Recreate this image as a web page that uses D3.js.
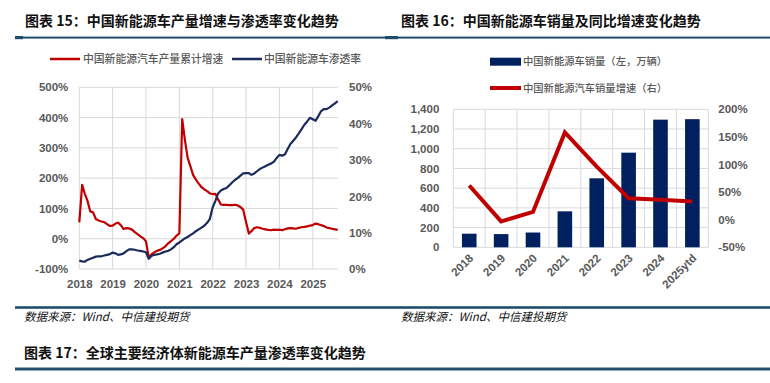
<!DOCTYPE html>
<html><head><meta charset="utf-8">
<script src="https://cdn.jsdelivr.net/npm/d3@7"></script>
<style>
html,body{margin:0;padding:0;background:#fff;}
svg{display:block;}
</style></head>
<body>
<svg id="c" width="770" height="383"></svg>
<script>
// ---------- data: chart 15 (monthly, Jan 2018 – Oct 2025) ----------
const startMonth = "2018-01", endMonth = "2025-10";
const productionGrowth = [
  54,178,150,125,90,87,65,60,57,55,48,42,
  43,50,53,45,32,35,34,30,22,15,8,2,
  -8,-63,-52,-45,-40,-37,-32,-25,-15,-8,0,10,
  18,395,330,268,240,210,195,182,170,163,157,150,
  147,148,130,113,112,112,111,111,112,110,105,96,
  55,17,25,35,38,36,33,31,29,28,30,29,
  30,28,31,34,35,34,33,36,38,39,41,43,
  45,50,48,45,42,37,35,33,31,29
];
const penetration = [
  2.3,2.1,2.0,2.5,2.8,3.1,3.4,3.5,3.5,3.7,3.9,4.1,
  4.5,4.3,3.9,4.0,4.3,4.9,5.4,5.4,5.3,5.1,5.0,4.8,
  4.6,2.8,3.6,3.9,4.0,4.2,4.5,4.8,5.0,5.4,6.0,6.8,
  7.3,7.9,8.4,8.8,9.3,9.8,10.4,10.9,11.4,11.9,12.7,13.8,
  17.0,18.8,20.8,21.6,22.0,22.3,23.0,23.8,24.5,25.0,25.7,26.3,
  26.4,26.4,25.9,26.3,26.9,27.5,27.9,28.3,28.7,29.0,29.5,30.5,
  31.4,31.2,31.5,33.0,34.4,35.3,36.2,37.3,38.5,39.7,40.6,41.6,
  41.2,40.8,42.0,43.4,44.0,44.0,44.4,45.0,45.6,46.2
];
const leftTicks15 = [-100,0,100,200,300,400,500];
const rightTicks15 = [0,10,20,30,40,50];
const yearTicks15 = ["2018","2019","2020","2021","2022","2023","2024","2025"];

// ---------- data: chart 16 ----------
const years16 = ["2018","2019","2020","2021","2022","2023","2024","2025ytd"];
const sales16 = [138,134,150,365,700,960,1295,1300];
const salesGrowth16 = [62,-3,14,158,96,39,36,33];
const leftTicks16 = [0,200,400,600,800,1000,1200,1400];
const rightTicks16 = [-50,0,50,100,150,200];

// ---------- texts ----------
const title15 = "图表 15：中国新能源车产量增速与渗透率变化趋势";
const title16 = "图表 16：中国新能源车销量及同比增速变化趋势";
const title17 = "图表 17：全球主要经济体新能源车产量渗透率变化趋势";
const legend15 = ["中国新能源汽车产量累计增速","中国新能源车渗透率"];
const legend16 = ["中国新能源车销量（左，万辆）","中国新能源汽车销量增速（右）"];
const sourceText = "数据来源：Wind、中信建投期货";

// ---------- styles ----------
const RED = "#c00000", NAVY = "#002060", NAVY_LINE = "#1a2a5c", GRID = "#d9d9d9", TXT = "#595959", BAR_RULE = "#1f4e6e";
const CJK = "'Noto Sans CJK SC','Noto Sans',sans-serif";
const NUM = "'Liberation Sans',Arial,sans-serif";

const svg = d3.select("#c");
svg.append("rect").attr("width",770).attr("height",383).attr("fill","#fff");

// titles & rules
function title(x, y, t){
  svg.append("text").attr("x",x).attr("y",y).text(t)
    .attr("font-family",CJK).attr("font-weight","bold").attr("font-size",14).attr("fill","#111");
}
title(25, 26, title15);
title(401, 26, title16);
title(24, 358, title17);
function rule(x1,x2,y,h){ svg.append("rect").attr("x",x1).attr("y",y-h/2).attr("width",x2-x1).attr("height",h).attr("fill",BAR_RULE); }
rule(15,385,37.6,2);
rule(15,23,37.6,3.2);
rule(385,770,37.6,2);
rule(385,398,37.6,3.2);
rule(15,770,307.5,2.6);
rule(15,770,369,3);
[24,401].forEach(x=>{
  svg.append("text").attr("x",x).attr("y",321).text(sourceText)
    .attr("font-family",CJK).attr("font-style","italic").attr("font-size",11.5).attr("fill","#111")
    .attr("transform",`translate(0,0)`);
});

function styleAxis(g, size){
  g.select(".domain").remove();
  g.selectAll("line").remove();
  g.selectAll("text").attr("font-family",NUM).attr("font-weight","bold").attr("font-size",size).attr("fill",TXT);
}

// ================= Chart 15 =================
{
  const parse = d3.timeParse("%Y-%m");
  const months = d3.timeMonth.range(parse(startMonth), d3.timeMonth.offset(parse(endMonth),1));
  const L = 79.3, R = 338, T = 87.3, B = 269;
  const x = d3.scaleTime().domain([months[0], months[months.length-1]]).range([L, 337.7]);
  const yL = d3.scaleLinear().domain([-100,500]).range([B,T]);
  const yR = d3.scaleLinear().domain([0,50]).range([B,T]);
  const yearDates = yearTicks15.map(y=>parse(y+"-01"));
  const g = svg.append("g");
  g.selectAll(".h").data(leftTicks15).join("line")
    .attr("x1",L).attr("x2",R).attr("y1",d=>yL(d)).attr("y2",d=>yL(d))
    .attr("stroke",GRID).attr("stroke-width",1);
  g.selectAll(".v").data(yearDates).join("line")
    .attr("x1",d=>x(d)).attr("x2",d=>x(d)).attr("y1",T).attr("y2",B)
    .attr("stroke",GRID).attr("stroke-width",1);

  const ax1 = svg.append("g").attr("transform",`translate(${L},0)`)
    .call(d3.axisLeft(yL).tickValues(leftTicks15).tickSize(0).tickPadding(11).tickFormat(d=>d+"%"));
  styleAxis(ax1, 11.5);
  const ax2 = svg.append("g").attr("transform",`translate(${R},0)`)
    .call(d3.axisRight(yR).tickValues(rightTicks15).tickSize(0).tickPadding(11).tickFormat(d=>d+"%"));
  styleAxis(ax2, 11.5);
  const ax3 = svg.append("g").attr("transform",`translate(0,${B})`)
    .call(d3.axisBottom(x).tickValues(yearDates).tickSize(0).tickPadding(11).tickFormat(d3.timeFormat("%Y")));
  styleAxis(ax3, 11.5);

  const lineR = d3.line().x((d,i)=>x(months[i])).y(d=>yL(d));
  const lineB = d3.line().x((d,i)=>x(months[i])).y(d=>yR(d));
  svg.append("path").attr("d",lineR(productionGrowth)).attr("fill","none").attr("stroke",RED).attr("stroke-width",2.2).attr("stroke-linejoin","round");
  svg.append("path").attr("d",lineB(penetration)).attr("fill","none").attr("stroke",NAVY_LINE).attr("stroke-width",2.2).attr("stroke-linejoin","round");

  // legend
  const lg = svg.append("g");
  [[50,80,83,RED,legend15[0]],[232,262,264,NAVY_LINE,legend15[1]]].forEach(([a,b,tx,c,t])=>{
    lg.append("line").attr("x1",a).attr("x2",b).attr("y1",59).attr("y2",59).attr("stroke",c).attr("stroke-width",2.5);
    lg.append("text").attr("x",tx).attr("y",59).attr("dy","0.35em").text(t)
      .attr("font-family",CJK).attr("font-size",10.8).attr("font-weight",500).attr("fill",TXT);
  });
}

// ================= Chart 16 =================
{
  const L = 453.3, R = 708.3, T = 109.3, B = 247.3;
  const x = d3.scaleBand().domain(years16).range([L,R]);
  const yB = d3.scaleLinear().domain([0,1400]).range([B,T]);
  const yP = d3.scaleLinear().domain([-50,200]).range([B,T]);
  const g = svg.append("g");
  g.selectAll(".h").data(leftTicks16).join("line")
    .attr("x1",L).attr("x2",R).attr("y1",d=>yB(d)).attr("y2",d=>yB(d))
    .attr("stroke",GRID).attr("stroke-width",1);
  const bounds = years16.map(d=>x(d)).concat([R]);
  g.selectAll(".v").data(bounds).join("line")
    .attr("x1",d=>d).attr("x2",d=>d).attr("y1",T).attr("y2",B)
    .attr("stroke",GRID).attr("stroke-width",1);

  const bw = 14.6;
  svg.append("g").selectAll("rect").data(years16).join("rect")
    .attr("x",(d)=>x(d)+x.bandwidth()/2-bw/2).attr("width",bw)
    .attr("y",(d,i)=>yB(sales16[i])).attr("height",(d,i)=>B-yB(sales16[i]))
    .attr("fill",NAVY);

  const line = d3.line().x((d,i)=>x(years16[i])+x.bandwidth()/2).y(d=>yP(d));
  svg.append("path").attr("d",line(salesGrowth16)).attr("fill","none").attr("stroke",RED).attr("stroke-width",4).attr("stroke-linejoin","miter");

  const ax1 = svg.append("g").attr("transform",`translate(${L},0)`)
    .call(d3.axisLeft(yB).tickValues(leftTicks16).tickSize(0).tickPadding(14).tickFormat(d3.format(",")));
  styleAxis(ax1, 11.5);
  const ax2 = svg.append("g").attr("transform",`translate(${R},0)`)
    .call(d3.axisRight(yP).tickValues(rightTicks16).tickSize(0).tickPadding(10).tickFormat(d=>d+"%"));
  styleAxis(ax2, 11.5);

  svg.append("g").selectAll("text").data(years16).join("text")
    .attr("transform",d=>`translate(${x(d)+x.bandwidth()/2+2},${256}) rotate(-45)`)
    .attr("text-anchor","end").attr("dy","0.35em").text(d=>d)
    .attr("font-family",NUM).attr("font-weight","bold").attr("font-size",11.5).attr("fill",TXT);

  // legend
  const lg = svg.append("g");
  lg.append("rect").attr("x",490).attr("y",57.7).attr("width",31).attr("height",8).attr("fill",NAVY);
  lg.append("text").attr("x",523).attr("y",61.7).attr("dy","0.35em").text(legend16[0])
    .attr("font-family",CJK).attr("font-size",10.3).attr("font-weight",500).attr("fill",TXT);
  lg.append("line").attr("x1",490).attr("x2",521).attr("y1",88).attr("y2",88).attr("stroke",RED).attr("stroke-width",4);
  lg.append("text").attr("x",523).attr("y",88).attr("dy","0.35em").text(legend16[1])
    .attr("font-family",CJK).attr("font-size",10.3).attr("font-weight",500).attr("fill",TXT);
}
</script>
</body></html>
